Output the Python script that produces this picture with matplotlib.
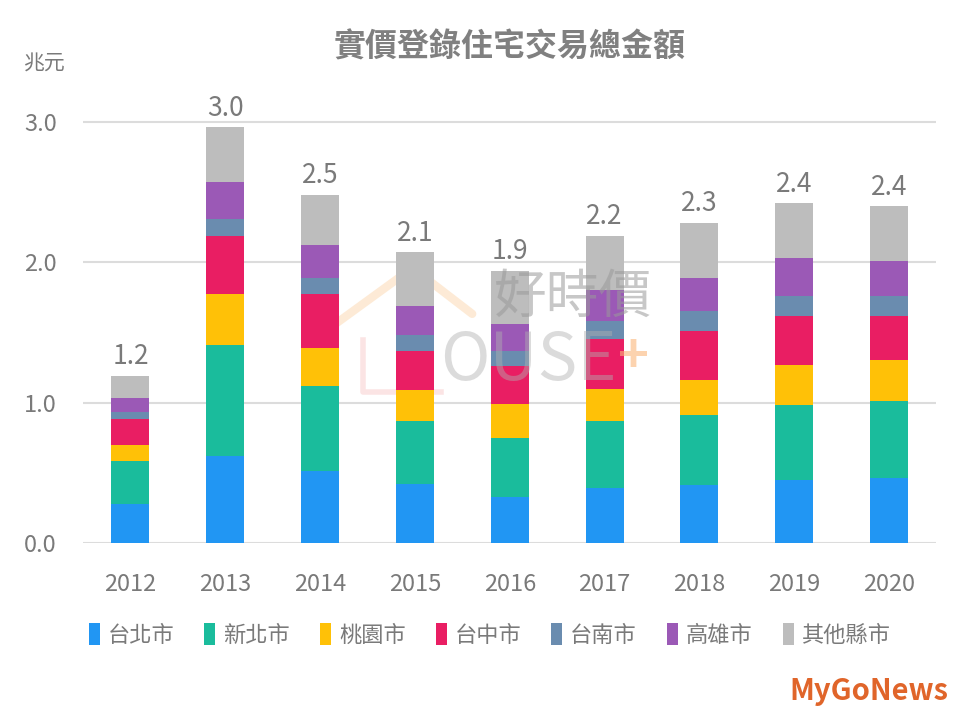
import numpy as np
import matplotlib
matplotlib.use("Agg")
import matplotlib.pyplot as plt
from matplotlib.patches import Patch

plt.rcParams['font.family'] = ['Noto Sans CJK TC', 'DejaVu Sans']

# data (兆元)
years = ['2012', '2013', '2014', '2015', '2016', '2017', '2018', '2019', '2020']
taipei    = [0.28, 0.62, 0.51, 0.42, 0.33, 0.39, 0.41, 0.45, 0.46]
newtaipei = [0.30, 0.79, 0.61, 0.45, 0.42, 0.48, 0.50, 0.53, 0.55]
taoyuan   = [0.12, 0.36, 0.27, 0.22, 0.24, 0.23, 0.25, 0.29, 0.29]
taichung  = [0.18, 0.42, 0.38, 0.28, 0.27, 0.35, 0.35, 0.35, 0.32]
tainan    = [0.05, 0.12, 0.12, 0.11, 0.11, 0.13, 0.14, 0.14, 0.14]
kaohsiung = [0.10, 0.26, 0.23, 0.21, 0.19, 0.22, 0.24, 0.27, 0.25]
others    = [0.16, 0.39, 0.36, 0.38, 0.38, 0.39, 0.39, 0.39, 0.39]

series = [taipei, newtaipei, taoyuan, taichung, tainan, kaohsiung, others]
names = ['台北市', '新北市', '桃園市', '台中市', '台南市', '高雄市', '其他縣市']
colors = ['#2196F3', '#1ABC9C', '#FFC107', '#E91E63', '#6A8CAF', '#9B59B6', '#BDBDBD']

txt = '#7a7a7a'

fig = plt.figure(figsize=(9.6, 7.2), dpi=100)
ax = fig.add_axes([0.0865, 0.246, 0.889, 0.614])

x = np.arange(len(years))
bottom = np.zeros(len(years))
for vals, c in zip(series, colors):
    ax.bar(x, vals, width=0.40, bottom=bottom, color=c, zorder=3)
    bottom += np.array(vals)

# totals above bars
for xi, tot in zip(x, bottom):
    ax.annotate('{:.1f}'.format(tot), (xi, tot), xytext=(0, 4), textcoords='offset points',
                ha='center', va='bottom', fontsize=19, color=txt, annotation_clip=False)

ax.set_xlim(-0.5, 8.5)
ax.set_ylim(0, 3.15)
ax.set_yticks([0, 1, 2, 3])
ax.set_yticklabels(['0.0', '1.0', '2.0', '3.0'])
ax.set_xticks(x)
ax.set_xticklabels(years)
ax.tick_params(axis='both', length=0, labelsize=17, colors=txt)
ax.tick_params(axis='y', pad=19)
ax.tick_params(axis='x', pad=22)
ax.grid(axis='y', color='#dcdcdc', linewidth=1.5, zorder=0)
for s in ax.spines.values():
    s.set_visible(False)

# title and unit
fig.text(0.531, 0.934, '實價登錄住宅交易總金額', ha='center', va='center',
         fontsize=23, color='#808080', fontweight='bold')
fig.text(0.046, 0.912, '兆元', ha='center', va='center', fontsize=15, color=txt)

# watermark
tf = ax.transAxes
ax.plot([0.272, 0.386, 0.456], [0.462, 0.622, 0.518], transform=tf,
        color='#FBC58A', alpha=0.35, lw=6, solid_capstyle='round', zorder=1)
ax.plot([0.328, 0.328, 0.42], [0.46, 0.342, 0.342], transform=tf,
        color='#F4A6A6', alpha=0.3, lw=4, zorder=1)
ax.text(0.573, 0.556, '好時價', transform=tf, ha='center', va='center',
        fontsize=38, color='#9a9a9a', alpha=0.55, zorder=4)
ax.text(0.522, 0.41, 'OUSE', transform=tf, ha='center', va='center',
        fontsize=48, fontweight='light', color='#b0b0b0', alpha=0.45, zorder=4)
ax.text(0.645, 0.42, '+', transform=tf, ha='center', va='center',
        fontsize=38, fontweight='bold', color='#FBB77A', alpha=0.6, zorder=4)

# legend
handles = [Patch(facecolor=c, edgecolor='none') for c in colors]
fig.legend(handles, names, loc='center', bbox_to_anchor=(0.51, 0.118), ncol=7,
           frameon=False, fontsize=16, labelcolor=txt, handlelength=0.5,
           handleheight=1.1, handletextpad=0.35, columnspacing=1.35)

# logo
fig.text(0.988, 0.04, 'MyGoNews', ha='right', va='center', fontsize=21,
         fontweight='bold', color='#E0652A')

fig.savefig('out.png', dpi=100, facecolor='white')
